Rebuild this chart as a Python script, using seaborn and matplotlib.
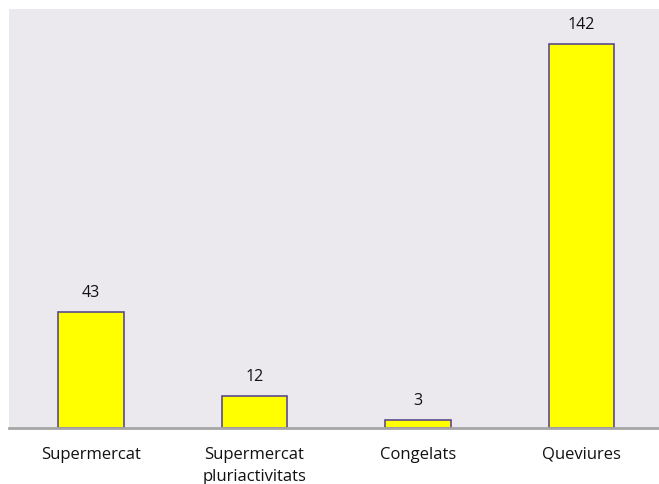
import matplotlib
matplotlib.use("Agg")
import matplotlib.pyplot as plt
import seaborn as sns
import pandas as pd

categories = ["Supermercat", "Supermercat\npluriactivitats", "Congelats", "Queviures"]
values = [43, 12, 3, 142]

df = pd.DataFrame({"categoria": categories, "valor": values})

sns.set_theme(style="white")
plt.rcParams["font.family"] = ["Open Sans", "DejaVu Sans"]

W, H = 659, 484
fig = plt.figure(figsize=(W / 100, H / 100), dpi=100)
# axes box in pixel coords: left 9, top 9, bottom 428, right 663.5 (runs past the edge)
left, top, bottom, right = 9, 9, 428, 663.5
ax = fig.add_axes([left / W, 1 - bottom / H, (right - left) / W, (bottom - top) / H])
ax.set_facecolor("#EBE8EE")
fig.patch.set_facecolor("white")

sns.barplot(data=df, x="categoria", y="valor", color="#FFFF00", width=0.40,
            edgecolor="#5B4A8C", linewidth=1.2, saturation=1, ax=ax)

for i, v in enumerate(values):
    ax.annotate(str(v), (i, v), xytext=(0, 13.5), textcoords="offset points",
                ha="center", va="center", fontsize=11.5, color="#111111")

ax.set_xlim(-0.5, 3.5)
ax.set_ylim(0, 155)
ax.set_xlabel("")
ax.set_ylabel("")
ax.set_yticks([])
ax.tick_params(axis="x", length=0, pad=13.5, labelsize=12, labelcolor="#111111")
for lbl in ax.get_xticklabels():
    lbl.set_verticalalignment("top")
    lbl.set_linespacing(1.55)
for s in ["top", "left", "right"]:
    ax.spines[s].set_visible(False)
ax.spines["bottom"].set_color("#A6A6A6")
ax.spines["bottom"].set_linewidth(2)

fig.savefig("out.png", dpi=100)
